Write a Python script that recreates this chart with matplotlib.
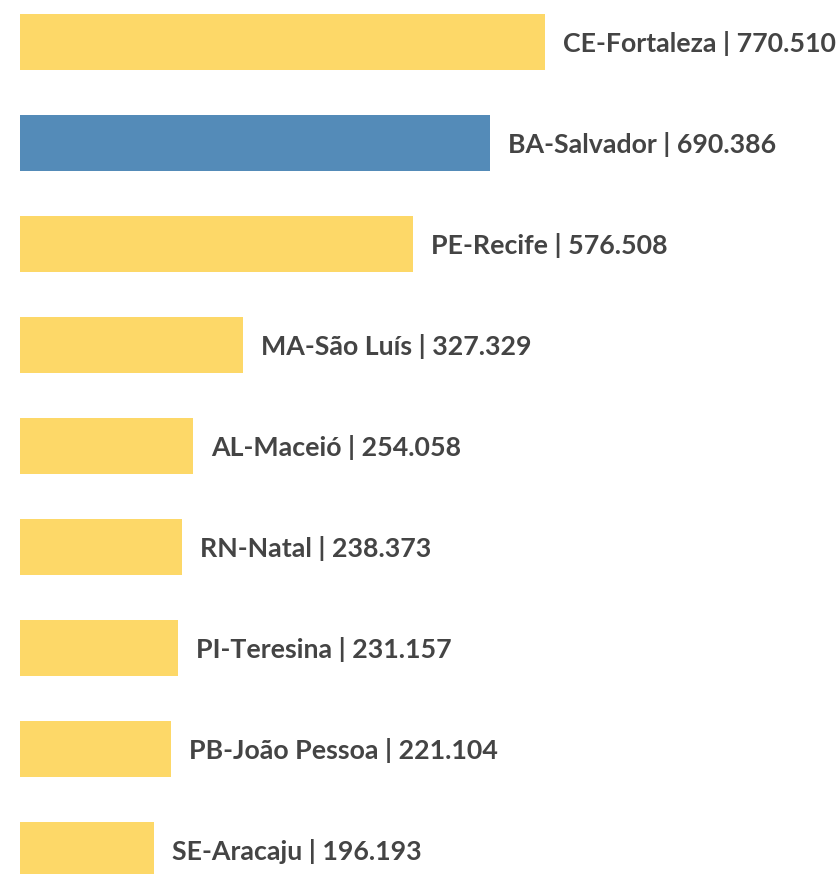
import matplotlib.pyplot as plt

cidades = ['CE-Fortaleza', 'BA-Salvador', 'PE-Recife', 'MA-São Luís', 'AL-Maceió',
           'RN-Natal', 'PI-Teresina', 'PB-João Pessoa', 'SE-Aracaju']
valores = [770.510, 690.386, 576.508, 327.329, 254.058, 238.373, 231.157, 221.104, 196.193]
rotulos = ['770.510', '690.386', '576.508', '327.329', '254.058', '238.373', '231.157', '221.104', '196.193']
destaque = 'BA-Salvador'

amarelo = '#FDD868'
azul = '#548BB8'
cores = [azul if c == destaque else amarelo for c in cidades]

fig = plt.figure(figsize=(8.38, 8.74), dpi=100)
ax = fig.add_axes([20 / 838, 0, 818 / 838, 1])

pos = list(range(len(cidades)))
barras = ax.barh(pos, valores, height=0.56, color=cores)

for b, c, r in zip(barras, cidades, rotulos):
    ax.annotate(f'{c} | {r}', xy=(b.get_width(), b.get_y() + b.get_height() / 2),
                xytext=(13, -1), textcoords='offset points', va='center', ha='left',
                fontsize=19.3, fontweight='bold', color='#444444', family='Lato')

ax.set_xlim(0, 818 / 0.6814)
ax.set_ylim(8 + 24 / 101, -42 / 101)
ax.axis('off')

fig.savefig('out.png', dpi=100)
